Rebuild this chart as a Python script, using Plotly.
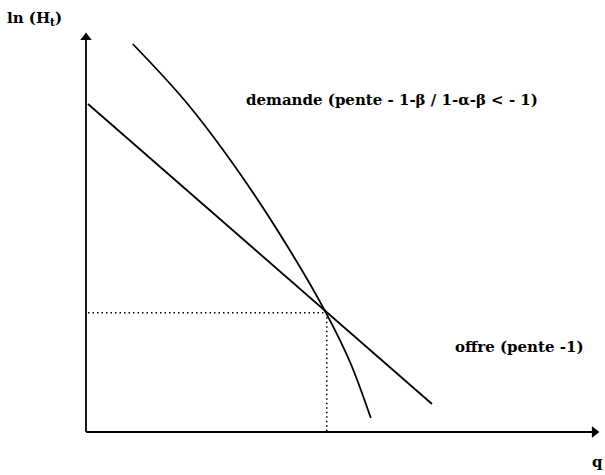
import plotly.graph_objects as go

# Offre (supply): straight line of slope -1 in log space
offre_q = [0.05, 8.65]
offre_lnh = [8.2, 0.7]

# Demande (demand): steeper, concave curve
demande_q = [1.17, 2.5, 3.75, 5.0, 6.0, 6.6, 7.12]
demande_lnh = [9.70, 8.25, 6.60, 4.70, 2.98, 1.75, 0.35]

# Equilibrium point
eq_q = 6.02
eq_lnh = 2.98

X_MAX = 12.85
Y_MAX = 10.0

W, H = 605, 475
ML, MR, MT, MB = 82, 1, 28, 39
pad = 0.1

fig = go.Figure()

line_style = dict(color="black", width=1.8)

# Axes drawn as lines ending in arrow heads
fig.add_trace(go.Scatter(x=[0, X_MAX - 0.1], y=[0, 0], mode="lines", line=line_style,
                         showlegend=False, hoverinfo="skip"))
fig.add_trace(go.Scatter(x=[0, 0], y=[0, Y_MAX - 0.1], mode="lines", line=line_style,
                         showlegend=False, hoverinfo="skip"))
fig.add_trace(go.Scatter(x=[X_MAX - 0.14], y=[0], mode="markers",
                         marker=dict(symbol="triangle-right", size=10, color="black"),
                         showlegend=False, hoverinfo="skip", cliponaxis=False))
fig.add_trace(go.Scatter(x=[0], y=[Y_MAX - 0.14], mode="markers",
                         marker=dict(symbol="triangle-up", size=10, color="black"),
                         showlegend=False, hoverinfo="skip", cliponaxis=False))

fig.add_trace(go.Scatter(x=offre_q, y=offre_lnh, mode="lines", line=line_style,
                         showlegend=False, hoverinfo="skip"))
fig.add_trace(go.Scatter(x=demande_q, y=demande_lnh, mode="lines",
                         line=dict(color="black", width=1.8, shape="spline", smoothing=1.0),
                         showlegend=False, hoverinfo="skip"))

# Dotted guides to the equilibrium
fig.add_trace(go.Scatter(x=[0.05, eq_q], y=[eq_lnh, eq_lnh], mode="lines",
                         line=dict(color="black", width=1.5, dash="1.5px,3px"),
                         showlegend=False, hoverinfo="skip"))
fig.add_trace(go.Scatter(x=[eq_q, eq_q], y=[eq_lnh, 0.0], mode="lines",
                         line=dict(color="black", width=1.5, dash="1.5px,3px"),
                         showlegend=False, hoverinfo="skip"))

font = dict(family="DejaVu Serif, serif", size=15, color="black")

pw, ph = W - ML - MR, H - MT - MB


def px_to_paper(px, py):
    return (px - ML) / pw, (H - MB - py) / ph


labels = [
    (5, 18, "<b>ln (H<sub>t</sub>)</b>", "left"),
    (392, 100, "<b>demande (pente - 1-β / 1-α-β < - 1)</b>", "center"),
    (519, 347, "<b>offre (pente -1)</b>", "center"),
    (597, 462, "<b>q</b>", "center"),
]

annotations = []
for px, py, txt, anchor in labels:
    x, y = px_to_paper(px, py)
    annotations.append(dict(x=x, y=y, xref="paper", yref="paper", text=txt,
                            showarrow=False, font=font, xanchor=anchor, yanchor="middle"))

fig.update_layout(
    width=W, height=H,
    margin=dict(l=ML, r=MR, t=MT, b=MB),
    paper_bgcolor="white", plot_bgcolor="white",
    xaxis=dict(range=[-pad, X_MAX + pad], visible=False, fixedrange=True),
    yaxis=dict(range=[-pad, Y_MAX + pad], visible=False, fixedrange=True),
    annotations=annotations,
    showlegend=False,
)

fig.write_html("out.html")
